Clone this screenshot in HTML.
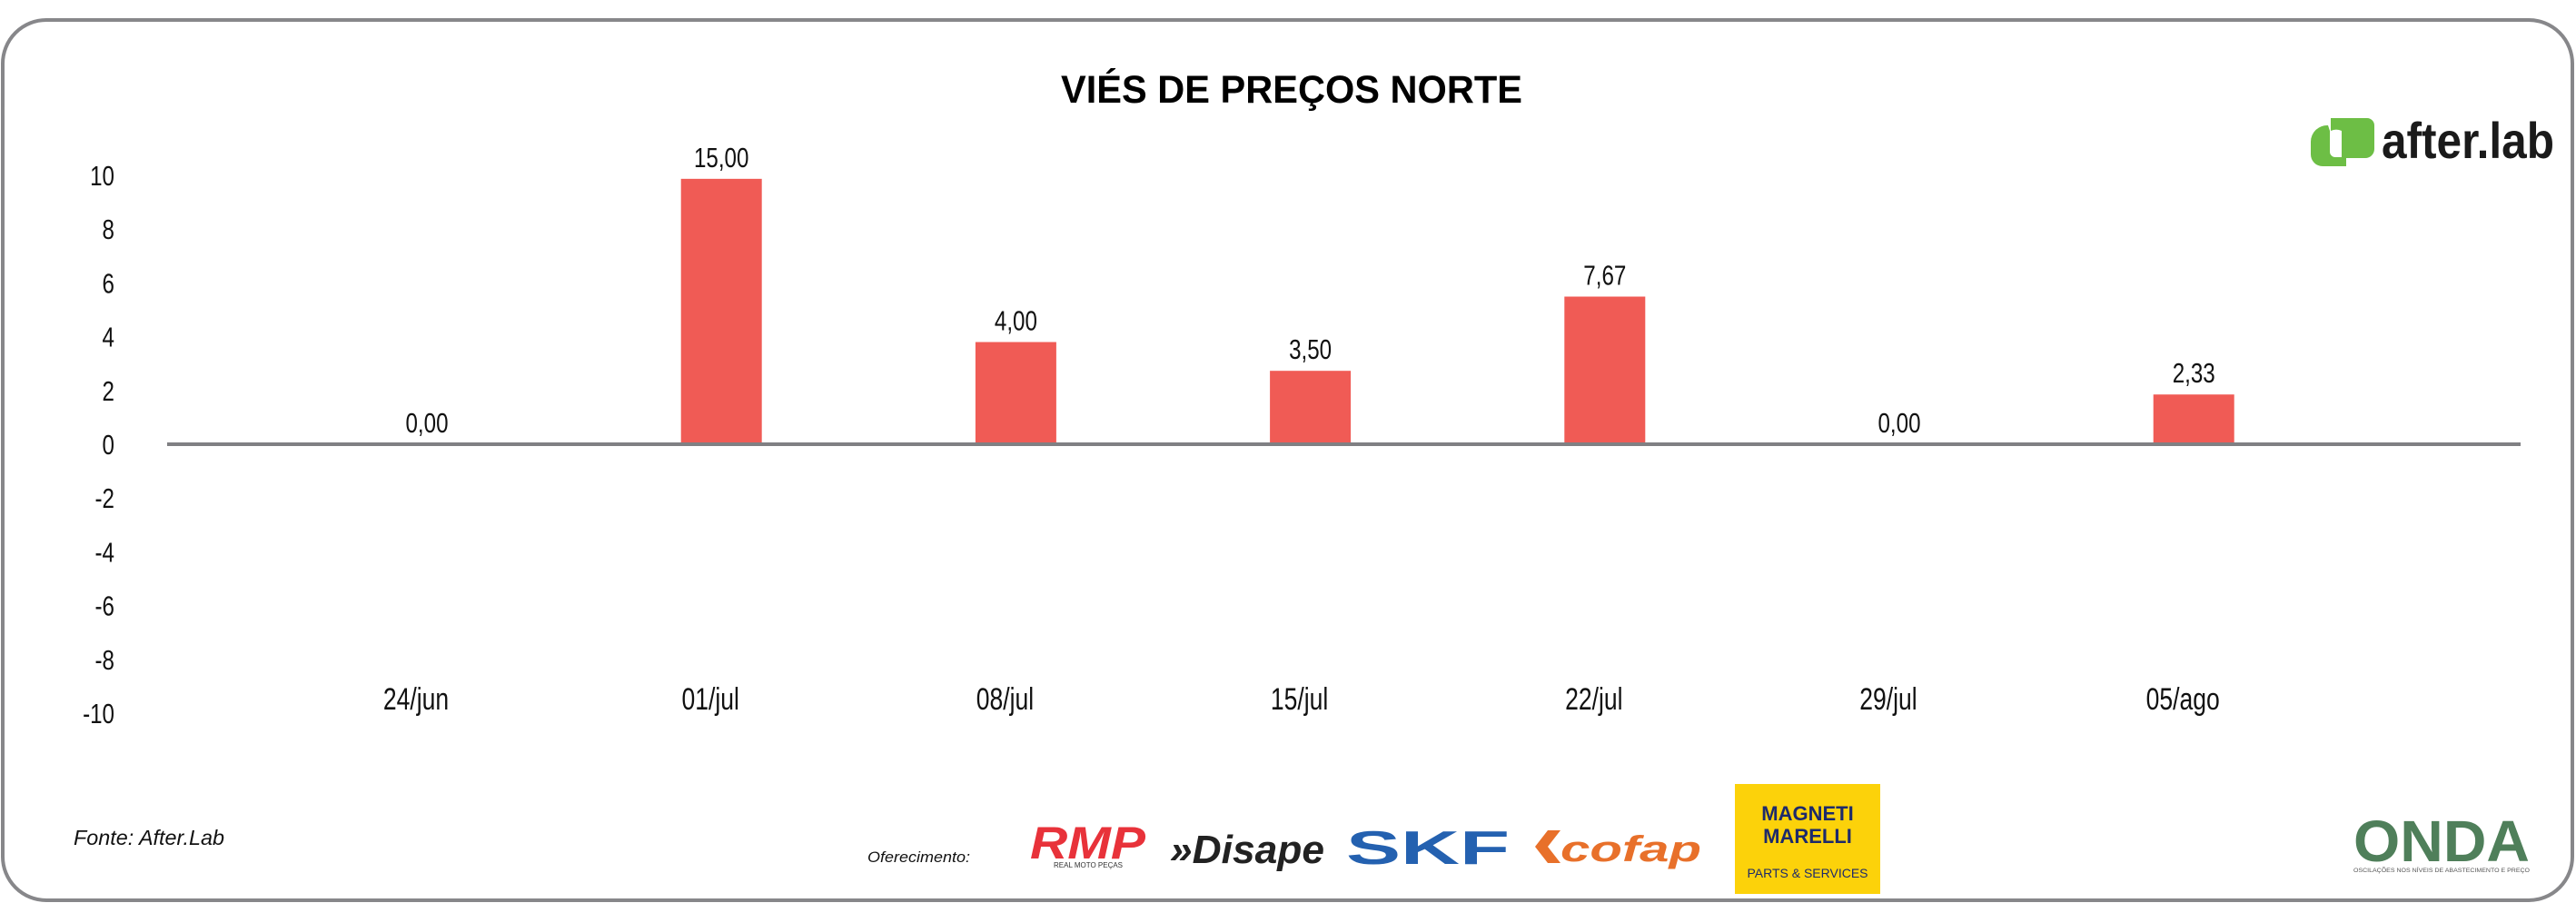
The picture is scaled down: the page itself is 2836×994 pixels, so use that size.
<!DOCTYPE html>
<html><head><meta charset="utf-8"><style>
html,body{margin:0;padding:0;background:#fff;}
svg{display:block;}
.tk{font-family:"Liberation Sans",sans-serif;font-size:31px;fill:#111;}
</style></head><body>
<svg id="chart" width="2836" height="994" viewBox="0 0 2836 994" xmlns="http://www.w3.org/2000/svg">
<rect x="3" y="22" width="2829" height="969" rx="48" ry="48" fill="#fff" stroke="#87878a" stroke-width="4"/>
<text x="1422" y="113" text-anchor="middle" font-family="Liberation Sans, sans-serif" font-weight="bold" font-size="43" textLength="508" lengthAdjust="spacingAndGlyphs" fill="#000">VIÉS DE PREÇOS NORTE</text>
<g>
<path d="M2566 130 h40 a8 8 0 0 1 8 8 v26 a10 10 0 0 1 -10 10 h-26 v-30 a14 14 0 0 0 -12 0 z" fill="#6dbe45"/>
<path d="M2563 138 a18 18 0 0 0 -19 18 v14 a13 13 0 0 0 13 13 h26 v-10 h-12 a6 6 0 0 1 -6 -6 v-23 z" fill="#6dbe45"/>
<text x="2622" y="174" font-family="Liberation Sans, sans-serif" font-weight="bold" font-size="56" textLength="190" lengthAdjust="spacingAndGlyphs" fill="#1a1a1a">after.lab</text>
</g>
<g id="yaxis"></g>
<g id="bars"></g>
<line id="zero" x1="184" x2="2775" stroke="#808083" stroke-width="4"/>
<g id="xaxis"></g>
<g id="vlabels"></g>
<text x="81" y="930" font-family="Liberation Sans, sans-serif" font-style="italic" font-size="23" textLength="166" lengthAdjust="spacingAndGlyphs" fill="#111">Fonte: After.Lab</text>
<text x="955" y="949" font-family="Liberation Sans, sans-serif" font-style="italic" font-size="17" textLength="113" lengthAdjust="spacingAndGlyphs" fill="#111">Oferecimento:</text>
<g>
<text x="1134" y="945" font-family="Liberation Sans, sans-serif" font-weight="bold" font-style="italic" font-size="50" textLength="127" lengthAdjust="spacingAndGlyphs" fill="#e8323a">RMP</text>
<text x="1160" y="955" font-family="Liberation Sans, sans-serif" font-size="8" fill="#333">REAL MOTO PEÇAS</text>
</g>
<g>
<text x="1288" y="950" font-family="Liberation Sans, sans-serif" font-weight="bold" font-style="italic" font-size="44" textLength="170" lengthAdjust="spacingAndGlyphs" fill="#222">»Disape</text>
</g>
<text x="1482" y="951" font-family="Liberation Sans, sans-serif" font-weight="bold" font-size="52" textLength="180" lengthAdjust="spacingAndGlyphs" fill="#2461b0">SKF</text>
<g>
<path d="M1690 932 l14 -18 h14 l-14 18 l14 18 h-14 z" fill="#e8702a"/>
<text x="1718" y="948" font-family="Liberation Sans, sans-serif" font-weight="bold" font-style="italic" font-size="40" textLength="155" lengthAdjust="spacingAndGlyphs" fill="#e8702a">cofap</text>
</g>
<g>
<rect x="1910" y="863" width="160" height="121" fill="#fcd20a"/>
<text x="1990" y="903" text-anchor="middle" font-family="Liberation Sans, sans-serif" font-weight="bold" font-size="22" fill="#1d2a6b">MAGNETI</text>
<text x="1990" y="928" text-anchor="middle" font-family="Liberation Sans, sans-serif" font-weight="bold" font-size="22" fill="#1d2a6b">MARELLI</text>
<text x="1990" y="966" text-anchor="middle" font-family="Liberation Sans, sans-serif" font-size="14" fill="#1d2a6b">PARTS &amp; SERVICES</text>
</g>
<g>
<text x="2591" y="948" font-family="Liberation Sans, sans-serif" font-weight="bold" font-size="64" textLength="194" lengthAdjust="spacingAndGlyphs" fill="#4f7f5a">ONDA</text>
<text x="2591" y="960" font-family="Liberation Sans, sans-serif" font-size="6" textLength="194" lengthAdjust="spacingAndGlyphs" fill="#555">OSCILAÇÕES NOS NÍVEIS DE ABASTECIMENTO E PREÇO</text>
</g>
</svg>
<script>
const categories = ["24/jun","01/jul","08/jul","15/jul","22/jul","29/jul","05/ago"];
const barValues = [0, 9.87, 3.8, 2.73, 5.49, 0, 1.85];
const valueLabels = ["0,00","15,00","4,00","3,50","7,67","0,00","2,33"];
const yTicks = [10,8,6,4,2,0,-2,-4,-6,-8,-10];
const yMin = -10, yMax = 10;
const NS = "http://www.w3.org/2000/svg";
const y = v => 489 - v * (296 / yMax);
const x = i => 470 + i * 324.2;
const barW = 89;
const SX = 0.78;
const clamp = v => Math.max(yMin, Math.min(yMax, v));
document.getElementById('zero').setAttribute('y1', y(0));
document.getElementById('zero').setAttribute('y2', y(0));
function place(el, px, py) {
  el.setAttribute('transform', 'translate(' + px + ',' + py + ') scale(' + SX + ',1)');
}
const ya = document.getElementById('yaxis');
yTicks.forEach(t => {
  const el = document.createElementNS(NS, 'text');
  
  
  el.setAttribute('class', 'tk');
  el.setAttribute('text-anchor', 'end');
  place(el, 126, y(t) + 11);
  el.textContent = t;
  ya.appendChild(el);
});
const bg = document.getElementById('bars');
const xa = document.getElementById('xaxis');
const vl = document.getElementById('vlabels');
categories.forEach((c, i) => {
  const v = clamp(barValues[i]);
  if (v !== 0) {
    const r = document.createElementNS(NS, 'rect');
    
    
    r.setAttribute('x', x(i) - barW / 2);
    r.setAttribute('y', Math.min(y(v), y(0)));
    r.setAttribute('width', barW);
    r.setAttribute('height', Math.abs(y(v) - y(0)));
    r.setAttribute('fill', '#f05b55');
    bg.appendChild(r);
  }
  const lt = document.createElementNS(NS, 'text');
  
  
  lt.setAttribute('class', 'tk');
  lt.setAttribute('text-anchor', 'middle');
  place(lt, x(i), Math.min(y(v), y(0)) - 13);
  lt.textContent = valueLabels[i];
  vl.appendChild(lt);
  const xt = document.createElementNS(NS, 'text');
  
  
  xt.setAttribute('class', 'tk');
  xt.setAttribute('style', 'font-size:34px');
  xt.setAttribute('text-anchor', 'middle');
  place(xt, x(i) - 12, 781);
  xt.textContent = c;
  xa.appendChild(xt);
});
</script>
</body></html>
